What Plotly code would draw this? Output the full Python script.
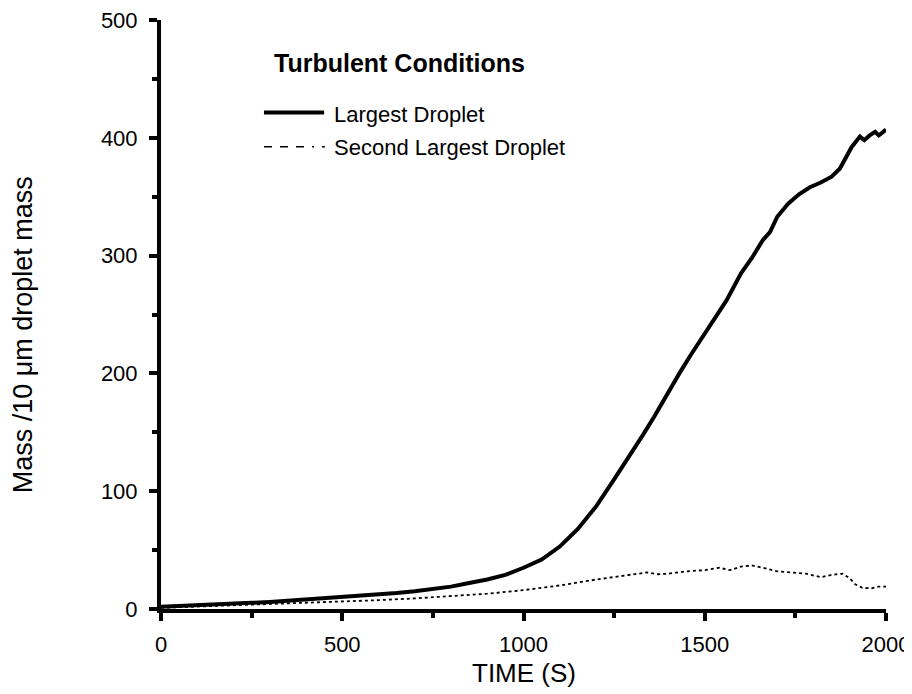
import plotly.graph_objects as go

# Data
time_largest = [0, 50, 100, 150, 200, 250, 300, 350, 400, 450, 500, 550, 600, 650, 700, 750,
                800, 850, 900, 950, 1000, 1050, 1100, 1150, 1200, 1250, 1300, 1330, 1360, 1400,
                1430, 1460, 1500, 1530, 1560, 1600, 1630, 1660, 1680, 1700, 1730, 1760, 1790,
                1820, 1850, 1873, 1890, 1905, 1928, 1940, 1955, 1970, 1980, 2000]
mass_largest = [2, 2.5, 3, 3.8, 4.5, 5.2, 6, 7, 8, 9, 10, 11, 12, 13.5, 15, 17,
                19, 22, 25, 29, 35, 42, 53, 68, 87, 110, 133, 148, 163, 185,
                200, 215, 234, 248, 262, 285, 298, 313, 320, 333, 344, 352, 358,
                362, 367, 374, 383, 392, 401, 398, 402, 405, 402, 407]

time_second = [0, 100, 200, 300, 400, 500, 600, 700, 800, 900, 1000, 1100, 1200, 1250,
               1300, 1340, 1370, 1400, 1450, 1500, 1540, 1570, 1600, 1630, 1660, 1700,
               1740, 1780, 1820, 1850, 1880, 1900, 1915, 1935, 1960, 1980, 2000]
mass_second = [1, 2, 3, 4, 5, 6, 7.5, 9, 11, 13, 16, 20, 25, 27,
               29, 31, 29.5, 30, 32, 33, 35, 33, 36, 37, 35, 32,
               31, 30, 27, 29, 30, 26, 21, 18, 17.5, 19, 19]

series_names = ["Largest Droplet", "Second Largest Droplet"]
x_ticks = [0, 500, 1000, 1500, 2000]
y_ticks = [0, 100, 200, 300, 400, 500]

FONT = "Liberation Sans, Arial, sans-serif"

fig = go.Figure()
fig.add_trace(go.Scatter(x=time_second, y=mass_second, mode="lines",
                         line=dict(color="black", width=1.8, dash="dot"),
                         name=series_names[1], showlegend=False))
fig.add_trace(go.Scatter(x=time_largest, y=mass_largest, mode="lines",
                         line=dict(color="black", width=4),
                         name=series_names[0], showlegend=False))

axis_common = dict(showgrid=False, zeroline=False, showline=True, linecolor="black",
                   linewidth=4, ticks="outside", ticklen=8, tickwidth=3.5, tickcolor="black",
                   automargin=False, ticklabeloverflow="allow",
                   tickfont=dict(family=FONT, size=22, color="black"),
                   minor=dict(ticks="outside", ticklen=5, tickwidth=3.5, tickcolor="black",
                              showgrid=False))

fig.update_xaxes(range=[0, 2000], tickvals=x_ticks, minor_dtick=250,
                 ticklabelstandoff=5, **axis_common)
fig.update_yaxes(range=[0, 500], tickvals=y_ticks, minor_dtick=50,
                 ticklabelstandoff=7, **axis_common)

# Legend drawn manually
fig.add_shape(type="line", xref="paper", yref="paper", x0=0.142, x1=0.225, y0=0.843, y1=0.843,
              line=dict(color="black", width=4))
fig.add_shape(type="line", xref="paper", yref="paper", x0=0.142, x1=0.226, y0=0.785, y1=0.785,
              line=dict(color="black", width=1.5, dash="8px,8px,8px,8px,8px,8px,2px"))

annotations = [
    dict(text="<b>Turbulent Conditions</b>", x=0.153, y=0.927, xanchor="left", yanchor="middle",
         font=dict(family=FONT, size=25, color="black")),
    dict(text=series_names[0], x=0.236, y=0.839, xanchor="left", yanchor="middle",
         font=dict(family=FONT, size=22, color="black")),
    dict(text=series_names[1], x=0.236, y=0.783, xanchor="left", yanchor="middle",
         font=dict(family=FONT, size=22, color="black")),
    dict(text="TIME (S)", x=0.5, y=-0.109, xanchor="center", yanchor="middle",
         font=dict(family=FONT, size=26, color="black")),
    dict(text="Mass /10 μm droplet mass", x=-0.190, y=0.465, xanchor="center", yanchor="middle",
         textangle=-90, font=dict(family=FONT, size=27, color="black")),
]
for a in annotations:
    fig.add_annotation(xref="paper", yref="paper", showarrow=False, **a)

# The page body adds an 8px offset, so the figure is sized/positioned to compensate.
fig.update_layout(width=904, height=686, margin=dict(l=153, r=26, t=12, b=85),
                  plot_bgcolor="white", paper_bgcolor="white", showlegend=False)

fig.write_html("out.html")
